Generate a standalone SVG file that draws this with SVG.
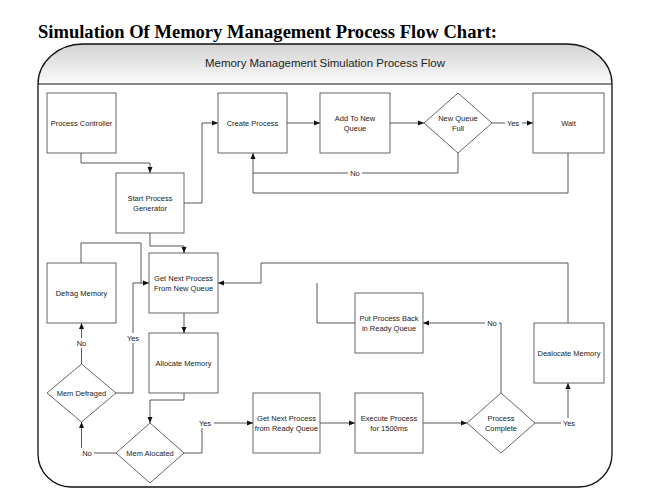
<svg xmlns="http://www.w3.org/2000/svg" width="663" height="502" viewBox="0 0 663 502">
<style>
.title{font-family:"Liberation Serif","Times New Roman",serif;font-weight:bold;font-size:18px;fill:#000}
.hdr{font-family:"Liberation Sans",Arial,sans-serif;font-size:11.5px;fill:#222}
.node{fill:#fff;stroke:#555;stroke-width:0.9}
.t{font-family:"Liberation Sans",Arial,sans-serif;font-size:7.5px;fill:#222;text-anchor:middle}
.c{fill:none;stroke:#444;stroke-width:0.9}
.lb{fill:#fff;stroke:none}
</style>
<defs>
<linearGradient id="hg" x1="0" y1="0" x2="0" y2="1">
<stop offset="0" stop-color="#d2d2d2"/>
<stop offset="1" stop-color="#fbfbfb"/>
</linearGradient>
<marker id="ar" markerUnits="userSpaceOnUse" markerWidth="6" markerHeight="6" refX="6" refY="3" orient="auto">
<path d="M0,0.5 L6,3 L0,5.5 z" fill="#111"/>
</marker>
</defs>
<rect width="663" height="502" fill="#fff"/>
<text class="title" x="38" y="38" textLength="459" lengthAdjust="spacingAndGlyphs">Simulation Of Memory Management Process Flow Chart:</text>
<g id="frame">
<path d="M83,44 H567 A45,40 0 0 1 612,84 H38 A45,40 0 0 1 83,44 Z" fill="url(#hg)"/>
<path d="M83,44 H567 A45,40 0 0 1 612,84 V454 A33,33 0 0 1 579,487 H71 A33,33 0 0 1 38,454 V84 A45,40 0 0 1 83,44 Z" fill="none" stroke="#111" stroke-width="1.3"/>
<line x1="38" y1="84" x2="612" y2="84" stroke="#111" stroke-width="1.2"/>
<text class="hdr" x="325" y="67" text-anchor="middle" textLength="240" lengthAdjust="spacingAndGlyphs">Memory Management Simulation Process Flow</text>
</g>
<g id="connectors">
<polyline class="c" points="81,153 81,163 150,163 150,173" marker-end="url(#ar)"/>
<polyline class="c" points="184,203 202,203 202,123 218,123" marker-end="url(#ar)"/>
<polyline class="c" points="287,123 320,123" marker-end="url(#ar)"/>
<polyline class="c" points="390,123 424,123" marker-end="url(#ar)"/>
<polyline class="c" points="492,123 533,123" marker-end="url(#ar)"/>
<polyline class="c" points="458,153 458,173 253,173 253,153" marker-end="url(#ar)"/>
<polyline class="c" points="568,153 568,193 253,193 253,173"/>
<polyline class="c" points="150,233 150,246 184,246 184,253" marker-end="url(#ar)"/>
<polyline class="c" points="81,263 81,243 141,243 141,283"/>
<polyline class="c" points="116,393 133,393 133,283 149,283" marker-end="url(#ar)"/>
<polyline class="c" points="184,313 184,333" marker-end="url(#ar)"/>
<polyline class="c" points="81.5,364 81.5,323" marker-end="url(#ar)"/>
<polyline class="c" points="184,393 184,400 150,400 150,423" marker-end="url(#ar)"/>
<polyline class="c" points="116,453 81.5,453 81.5,422" marker-end="url(#ar)"/>
<polyline class="c" points="184,453 202,453 202,423 253,423" marker-end="url(#ar)"/>
<polyline class="c" points="320,423 355,423" marker-end="url(#ar)"/>
<polyline class="c" points="423,423 467,423" marker-end="url(#ar)"/>
<polyline class="c" points="535,423 568,423 568,383" marker-end="url(#ar)"/>
<polyline class="c" points="501,393 501,323 423,323" marker-end="url(#ar)"/>
<polyline class="c" points="568,323 568,263 261,263 261,283 218,283" marker-end="url(#ar)"/>
<polyline class="c" points="355,323 317,323 317,283"/>
</g>
<g id="labels">
<rect class="lb" x="505" y="118" width="17" height="10"/><text class="t" x="513" y="125.5">Yes</text>
<rect class="lb" x="348" y="168" width="14" height="10"/><text class="t" x="355" y="175.5">No</text>
<rect class="lb" x="125" y="333" width="17" height="10"/><text class="t" x="133" y="340.5">Yes</text>
<rect class="lb" x="75" y="338" width="13" height="10"/><text class="t" x="81.5" y="345.5">No</text>
<rect class="lb" x="80" y="448" width="14" height="10"/><text class="t" x="87" y="455.5">No</text>
<rect class="lb" x="197" y="418" width="17" height="10"/><text class="t" x="205" y="425.5">Yes</text>
<rect class="lb" x="561" y="418" width="15" height="10"/><text class="t" x="569" y="425.5">Yes</text>
<rect class="lb" x="485" y="318" width="14" height="10"/><text class="t" x="492" y="325.5">No</text>
</g>
<g id="n-process-controller"><rect class="node" x="47" y="93" width="69" height="60"/><text class="t" x="81.5" y="126">Process Controller</text></g>
<g id="n-create-process"><rect class="node" x="218" y="93" width="69" height="60"/><text class="t" x="252.5" y="126">Create Process</text></g>
<g id="n-add-new-queue"><rect class="node" x="320" y="93" width="70" height="60"/><text class="t" x="355" y="121">Add To New</text><text class="t" x="355" y="131">Queue</text></g>
<g id="n-new-queue-full"><polygon class="node" points="424,123 458,93 492,123 458,153"/><text class="t" x="458" y="121">New Queue</text><text class="t" x="458" y="131">Full</text></g>
<g id="n-wait"><rect class="node" x="533" y="93" width="71" height="60"/><text class="t" x="568.5" y="126">Wait</text></g>
<g id="n-start-generator"><rect class="node" x="116" y="173" width="68" height="60"/><text class="t" x="150" y="201">Start Process</text><text class="t" x="150" y="211">Generator</text></g>
<g id="n-get-next-new"><rect class="node" x="149" y="253" width="69" height="60"/><text class="t" x="183.5" y="281">Get Next Process</text><text class="t" x="183.5" y="291">From New Queue</text></g>
<g id="n-defrag"><rect class="node" x="47" y="263" width="69" height="60"/><text class="t" x="81.5" y="296">Defrag Memory</text></g>
<g id="n-allocate"><rect class="node" x="149" y="333" width="69" height="60"/><text class="t" x="183.5" y="366">Allocate Memory</text></g>
<g id="n-mem-defraged"><polygon class="node" points="47,393 81.5,364 116,393 81.5,422"/><text class="t" x="81.5" y="396">Mem Defraged</text></g>
<g id="n-mem-alocated"><polygon class="node" points="116,453 150,423 184,453 150,483"/><text class="t" x="150" y="456">Mem Alocated</text></g>
<g id="n-get-next-ready"><rect class="node" x="253" y="393" width="67" height="60"/><text class="t" x="286.5" y="421">Get Next Process</text><text class="t" x="286.5" y="431">from Ready Queue</text></g>
<g id="n-execute"><rect class="node" x="355" y="393" width="68" height="60"/><text class="t" x="389" y="421">Execute Process</text><text class="t" x="389" y="431">for 1500ms</text></g>
<g id="n-process-complete"><polygon class="node" points="467,423 501,393 535,423 501,453"/><text class="t" x="501" y="421">Process</text><text class="t" x="501" y="431">Complete</text></g>
<g id="n-dealocate"><rect class="node" x="534" y="323" width="70" height="60"/><text class="t" x="569" y="356">Dealocate Memory</text></g>
<g id="n-put-back"><rect class="node" x="355" y="293" width="68" height="60"/><text class="t" x="389" y="321">Put Process Back</text><text class="t" x="389" y="331">in Ready Queue</text></g>
</svg>
